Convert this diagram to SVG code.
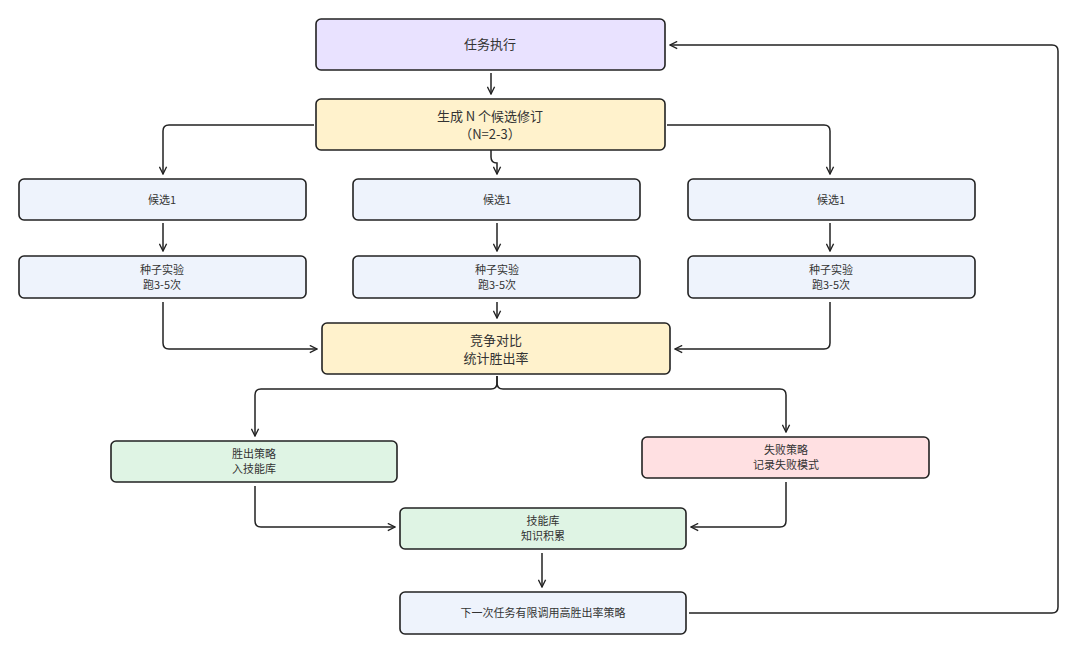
<svg xmlns="http://www.w3.org/2000/svg" width="1080" height="653" viewBox="0 0 1080 653">
<style>
rect{stroke:#222;stroke-width:1.6}
text{font-family:"Noto Sans CJK SC","Noto Sans",sans-serif;fill:#333;text-anchor:middle}
.b{font-size:13px}.s{font-size:11px}
.c path{fill:none;stroke:#222;stroke-width:1.5;marker-end:url(#a)}
</style>
<defs><marker id="a" viewBox="0 0 10 10" refX="9" refY="5" markerWidth="9" markerHeight="9" orient="auto" markerUnits="userSpaceOnUse"><path d="M1 1L9 5L1 9" fill="none" stroke="#222" stroke-width="1.5"/></marker></defs>
<rect width="1080" height="653" fill="#fff" style="stroke:none"/>
<g id="task"><rect x="316" y="19" width="349" height="51" rx="5" fill="#e9e2ff"/><text class="b" x="490" y="49">任务执行</text></g>
<g id="gen"><rect x="316" y="99" width="349" height="51" rx="5" fill="#fff2cc"/><text class="b" x="490" y="121">生成 N 个候选修订</text><text class="b" x="490" y="139">（N=2-3）</text></g>
<g id="c1"><rect x="19" y="179" width="287" height="41" rx="5" fill="#eef3fc"/><text class="s" x="162" y="204">候选1</text></g>
<g id="c2"><rect x="353" y="179" width="287" height="41" rx="5" fill="#eef3fc"/><text class="s" x="497" y="204">候选1</text></g>
<g id="c3"><rect x="688" y="179" width="287" height="41" rx="5" fill="#eef3fc"/><text class="s" x="831" y="204">候选1</text></g>
<g id="s1"><rect x="19" y="256" width="287" height="42" rx="5" fill="#eef3fc"/><text class="s" x="162" y="274">种子实验</text><text class="s" x="162" y="289">跑3-5次</text></g>
<g id="s2"><rect x="353" y="256" width="287" height="42" rx="5" fill="#eef3fc"/><text class="s" x="497" y="274">种子实验</text><text class="s" x="497" y="289">跑3-5次</text></g>
<g id="s3"><rect x="688" y="256" width="287" height="42" rx="5" fill="#eef3fc"/><text class="s" x="831" y="274">种子实验</text><text class="s" x="831" y="289">跑3-5次</text></g>
<g id="cmp"><rect x="322" y="323" width="348" height="51" rx="5" fill="#fff2cc"/><text class="b" x="496" y="345">竞争对比</text><text class="b" x="496" y="363">统计胜出率</text></g>
<g id="win"><rect x="111" y="441" width="286" height="41" rx="5" fill="#dff4e4"/><text class="s" x="254" y="458">胜出策略</text><text class="s" x="254" y="473">入技能库</text></g>
<g id="fail"><rect x="642" y="437" width="287" height="41" rx="5" fill="#ffe0e2"/><text class="s" x="786" y="454">失败策略</text><text class="s" x="786" y="469">记录失败模式</text></g>
<g id="skill"><rect x="400" y="508" width="286" height="41" rx="5" fill="#dff4e4"/><text class="s" x="543" y="525">技能库</text><text class="s" x="543" y="540">知识积累</text></g>
<g id="next"><rect x="400" y="592" width="286" height="42" rx="5" fill="#eef3fc"/><text class="s" x="543" y="617">下一次任务有限调用高胜出率策略</text></g>
<g class="c">
<path d="M491 73V94"/>
<path d="M314 125H169Q163 125 163 131V174"/>
<path d="M491 150V157Q491 163 497 163V174"/>
<path d="M667 125H824Q830 125 830 131V174"/>
<path d="M163 223V251"/><path d="M497 223V251"/><path d="M830 223V251"/>
<path d="M163 302V343Q163 349 169 349H317"/>
<path d="M497 302V318"/>
<path d="M830 302V343Q830 349 824 349H675"/>
<path d="M497 376V383Q497 389 491 389H261Q255 389 255 395V436"/>
<path d="M497 376V383Q497 389 503 389H780Q786 389 786 395V432"/>
<path d="M255 486V521Q255 527 261 527H395"/>
<path d="M786 482V521Q786 527 780 527H691"/>
<path d="M542 553V587"/>
<path d="M689 613H1052Q1058 613 1058 607V51Q1058 45 1052 45H670"/>
</g>
</svg>
